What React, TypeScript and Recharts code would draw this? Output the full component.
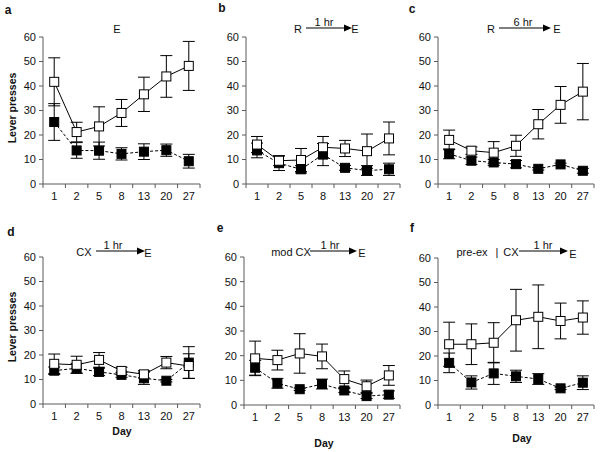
import React from "react";
import { ErrorBar, Line, LineChart, XAxis, YAxis } from "recharts";

const days = ["1", "2", "5", "8", "13", "20", "27"];
const yTicks = [0, 10, 20, 30, 40, 50, 60];
const xTicks = [-0.5, 0, 0.5, 1, 1.5, 2, 2.5, 3, 3.5, 4, 4.5, 5, 5.5, 6, 6.5];

// open squares (solid line) and filled squares (dashed line), mean and error
const aOpen = [41.7, 21.2, 23.5, 29, 36.6, 43.9, 48.2];
const aOpenErr = [9.8, 4, 8, 5.5, 7, 8.5, 10];
const aFilled = [25.3, 13.7, 13.6, 12.3, 13.2, 13.8, 9.3];
const aFilledErr = [7.5, 3.2, 3.5, 2.5, 3.2, 2.5, 2.8];

const bOpen = [16.1, 9.5, 9.8, 15, 14.5, 13.4, 18.6];
const bOpenErr = [3.3, 2, 4.7, 4.4, 3.3, 7, 6.7];
const bFilled = [13.7, 8.5, 6, 12, 6.6, 5.5, 6];
const bFilledErr = [3, 3, 1.5, 4.5, 1, 2, 2.5];

const cOpen = [18, 13.6, 12.8, 15.6, 24.4, 32.3, 37.7];
const cOpenErr = [4, 1.5, 4.5, 4.3, 6, 7.5, 11.5];
const cFilled = [12.3, 9.5, 8.8, 8.1, 6.2, 8, 5.4];
const cFilledErr = [2, 1.5, 1.2, 1.5, 0.5, 0.5, 1];

const dOpen = [16.4, 16, 18, 13.5, 12.1, 16.9, 15.5];
const dOpenErr = [4, 3.5, 3, 1.5, 1.5, 2.5, 5];
const dFilled = [13.6, 14.6, 13.1, 11.9, 10.5, 9.5, 16.9];
const dFilledErr = [1.5, 2, 1.5, 1, 2.5, 0.5, 6.5];

const eOpen = [18.9, 18.2, 20.9, 19.7, 10.5, 7.6, 12];
const eOpenErr = [7, 4, 8, 5, 3.3, 2.5, 4];
const eFilled = [15.1, 8.8, 6.4, 8.5, 5.9, 3.6, 4.2];
const eFilledErr = [3, 2, 0.5, 2, 0.8, 1, 1.5];

const fOpen = [24.8, 24.8, 25.4, 34.6, 36, 34.3, 35.7];
const fOpenErr = [9, 8.3, 8.2, 12.6, 13, 7.3, 6.8];
const fFilled = [17.2, 9.2, 12.9, 11.7, 10.6, 6.8, 9.1];
const fFilledErr = [4, 2.7, 4.5, 2.5, 2.2, 0.5, 2.8];

const FONT = "'Liberation Sans', Arial, sans-serif";
const AXIS = "#5a5a5a";

function build(open: number[], openErr: number[], filled: number[], filledErr: number[]) {
  return days.map((d, i) => ({ i, day: d, open: open[i], oe: openErr[i], filled: filled[i], fe: filledErr[i] }));
}

const OpenSquare = (p: any) => (
  <rect x={p.cx - 4.5} y={p.cy - 4.5} width={9} height={9} fill="#fff" stroke="#000" strokeWidth={1} />
);
const FilledSquare = (p: any) => (
  <rect x={p.cx - 4.5} y={p.cy - 4.5} width={9} height={9} fill="#000" stroke="#000" strokeWidth={1} />
);

const DayTick = (p: any) => {
  const v = p.payload.value;
  if (Number.isInteger(v)) {
    return (
      <text x={p.x} y={p.y + 16} textAnchor="middle" fontSize={11} fontFamily={FONT} fill="#111">
        {days[v]}
      </text>
    );
  }
  return <line x1={p.x} x2={p.x} y1={p.y} y2={p.y + 4} stroke={AXIS} />;
};

type PanelProps = {
  left: number; right: number; top: number; bottom: number;
  open: number[]; openErr: number[]; filled: number[]; filledErr: number[];
};

function Panel({ left, right, top, bottom, open, openErr, filled, filledErr }: PanelProps) {
  const data = build(open, openErr, filled, filledErr);
  const yw = 40;
  const w = right - left + yw + 4;
  const h = bottom - top + 10 + 25;
  return (
    <div style={{ position: "absolute", left: left - yw, top: top - 10 }}>
      <LineChart width={w} height={h} data={data} margin={{ top: 10, right: 4, left: 0, bottom: 0 }}>
        <XAxis
          dataKey="i"
          type="number"
          domain={[-0.5, 6.5]}
          ticks={xTicks}
          interval={0}
          allowDecimals
          tickSize={0}
          tickMargin={0}
          tickLine={false}
          tick={<DayTick />}
          height={25}
          axisLine={{ stroke: AXIS }}
        />
        <YAxis
          type="number"
          domain={[0, 60]}
          ticks={yTicks}
          interval={0}
          width={yw}
          tickSize={4}
          tickMargin={3}
          tickLine={{ stroke: AXIS }}
          axisLine={{ stroke: AXIS }}
          tick={{ fontSize: 11, fill: "#111", fontFamily: FONT }}
        />
        <Line
          dataKey="filled"
          stroke="#000"
          strokeWidth={1}
          strokeDasharray="3 2"
          dot={<FilledSquare />}
          isAnimationActive={false}
        >
          <ErrorBar dataKey="fe" direction="y" width={6} stroke="#000" strokeWidth={1} />
        </Line>
        <Line
          dataKey="open"
          stroke="#000"
          strokeWidth={1}
          dot={<OpenSquare />}
          isAnimationActive={false}
        >
          <ErrorBar dataKey="oe" direction="y" width={6} stroke="#000" strokeWidth={1} />
        </Line>
      </LineChart>
    </div>
  );
}

function Arrow({ x1, x2, y }: { x1: number; x2: number; y: number }) {
  return (
    <g>
      <line x1={x1} x2={x2 - 7} y1={y} y2={y} stroke="#000" strokeWidth={1.2} />
      <polygon points={`${x2 - 8},${y - 3.5} ${x2},${y} ${x2 - 8},${y + 3.5}`} fill="#000" />
    </g>
  );
}

const T = (p: { x: number; y: number; children: React.ReactNode; bold?: boolean; size?: number; anchor?: string }) => (
  <text
    x={p.x}
    y={p.y}
    textAnchor={(p.anchor as any) || "middle"}
    dominantBaseline="central"
    fontSize={p.size || 11}
    fontWeight={p.bold ? "bold" : "normal"}
    fontFamily={FONT}
    fill="#111"
  >
    {p.children}
  </text>
);

export default function App() {
  return (
    <div style={{ position: "absolute", left: 0, top: 0, width: 600, height: 452, background: "#fff", fontFamily: FONT }}>
      <Panel left={43} right={200} top={37} bottom={184} open={aOpen} openErr={aOpenErr} filled={aFilled} filledErr={aFilledErr} />
      <Panel left={246} right={400} top={37} bottom={184} open={bOpen} openErr={bOpenErr} filled={bFilled} filledErr={bFilledErr} />
      <Panel left={438} right={594} top={37} bottom={184} open={cOpen} openErr={cOpenErr} filled={cFilled} filledErr={cFilledErr} />
      <Panel left={43} right={200} top={257} bottom={404} open={dOpen} openErr={dOpenErr} filled={dFilled} filledErr={dFilledErr} />
      <Panel left={244} right={400} top={257} bottom={405} open={eOpen} openErr={eOpenErr} filled={eFilled} filledErr={eFilledErr} />
      <Panel left={438} right={594} top={258} bottom={405} open={fOpen} openErr={fOpenErr} filled={fFilled} filledErr={fFilledErr} />
      <svg width={600} height={452} style={{ position: "absolute", left: 0, top: 0, pointerEvents: "none" }}>
        <T x={8} y={10} bold size={12}>a</T>
        <T x={222} y={8} bold size={12}>b</T>
        <T x={412} y={9} bold size={12}>c</T>
        <T x={11} y={232} bold size={12}>d</T>
        <T x={220} y={228} bold size={12}>e</T>
        <T x={412} y={228} bold size={12}>f</T>

        <g transform="translate(12,108) rotate(-90)">
          <T x={0} y={0} bold size={10.5}>Lever presses</T>
        </g>
        <g transform="translate(12,327) rotate(-90)">
          <T x={0} y={0} bold size={10.5}>Lever presses</T>
        </g>
        <T x={122} y={431} bold size={10.5}>Day</T>
        <T x={324} y={443} bold size={10.5}>Day</T>
        <T x={522} y={438} bold size={10.5}>Day</T>

        <T x={117} y={29}>E</T>

        <T x={298} y={29}>R</T>
        <Arrow x1={306} x2={352} y={28} />
        <T x={324} y={22}>1 hr</T>
        <T x={355} y={29}>E</T>

        <T x={491} y={29}>R</T>
        <Arrow x1={499} x2={551} y={28} />
        <T x={523} y={22}>6 hr</T>
        <T x={557} y={29}>E</T>

        <T x={84} y={252}>CX</T>
        <Arrow x1={96} x2={145} y={251} />
        <T x={113} y={245}>1 hr</T>
        <T x={148} y={253}>E</T>

        <T x={291} y={252}>mod CX</T>
        <Arrow x1={310} x2={357} y={251} />
        <T x={330} y={245}>1 hr</T>
        <T x={362} y={253}>E</T>

        <T x={472} y={252}>pre-ex</T>
        <T x={497} y={252}>|</T>
        <T x={511} y={252}>CX</T>
        <Arrow x1={519} x2={568} y={251} />
        <T x={543} y={245}>1 hr</T>
        <T x={573} y={254}>E</T>
      </svg>
    </div>
  );
}
